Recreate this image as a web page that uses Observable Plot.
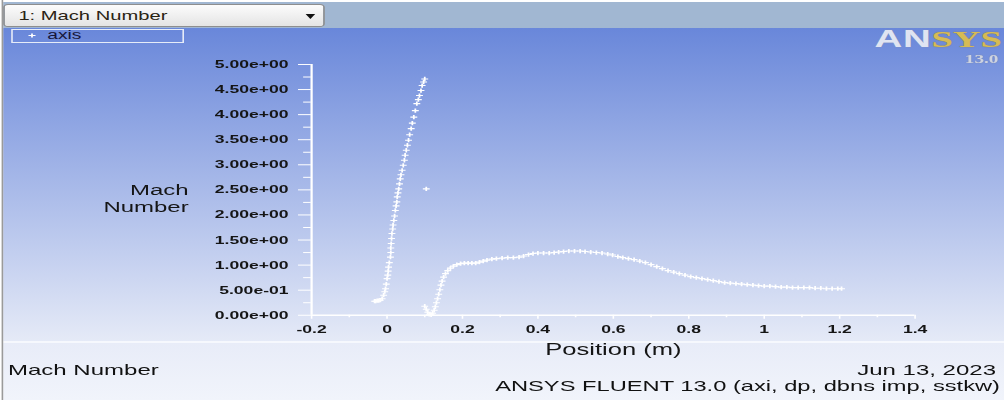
<!DOCTYPE html>
<html><head><meta charset="utf-8">
<script src="https://cdn.jsdelivr.net/npm/d3@7"></script>
<script src="https://cdn.jsdelivr.net/npm/@observablehq/plot@0.6"></script>
<style>
html,body{margin:0;padding:0;width:1004px;height:400px;overflow:hidden;background:#fff;}
#wrap{position:absolute;left:0;top:0;width:627.5px;height:400px;overflow:hidden;transform:scaleX(1.6);transform-origin:0 0;font-family:"Liberation Sans",Arial,sans-serif;color:#111;}
.abs{position:absolute;}
#edge{left:1.2px;top:0;width:0.8px;height:400px;background:#9a9a9a;}
#bar{left:2px;top:1.5px;right:0;height:26px;background:#a1b7d2;}
#drop{left:2px;top:4px;width:199px;height:21px;border:1px solid #8e8e8e;border-radius:3px;background:linear-gradient(#fcfcfc,#e4e4e4);}
#drop span{position:absolute;left:8.5px;top:0;line-height:22px;font-size:12.6px;color:#2a2313;}
#arrow{left:191px;top:14px;width:0;height:0;border-left:3.6px solid transparent;border-right:3.6px solid transparent;border-top:5px solid #111;}
#bg{left:2px;top:28px;right:0;height:313px;background:linear-gradient(#6987da,#e5eaf7);}
#sep{left:2px;top:341px;right:0;height:2px;background:#f6f8fd;}
#panel{left:2px;top:343px;right:0;height:57px;background:linear-gradient(#e8ecf8,#f1f4fb);}
#legend{left:6.5px;top:28.5px;width:106.5px;height:12px;border:1px solid #e6ecf8;}
#legend span{position:absolute;left:22px;top:-1px;font-size:12px;line-height:13px;color:#16163a;}
#logo{left:546.5px;top:27.4px;font-size:24px;font-weight:bold;white-space:nowrap;line-height:24px;height:24px;}
#logo .an{font-family:"Liberation Sans",Arial,sans-serif;color:#dfe4f2;text-shadow:0 0 1px #8a93b0;letter-spacing:0.5px;}
#logo .sys{font-family:"Liberation Serif",serif;color:#d6bb55;text-shadow:0 0 1px #8a7a40;}
#ver{left:603px;top:53px;font-family:"Liberation Serif",serif;font-weight:bold;font-size:12px;line-height:12px;height:12px;color:#cdd3e2;text-shadow:0 0 1px #7c86a2;}
.foot{font-size:15px;line-height:16px;white-space:nowrap;}
#chart{left:0;top:28px;}
</style></head>
<body>
<div id="wrap">
  <div class="abs" id="bar"></div>
  <div class="abs" id="drop"><span>1: Mach Number</span></div>
  <div class="abs" id="arrow"></div>
  <div class="abs" id="bg"></div>
  <div class="abs" id="sep"></div>
  <div class="abs" id="panel"></div>
  <div class="abs" id="edge"></div>
  <div class="abs" id="legend"><svg width="20" height="12" style="position:absolute;left:1px;top:0"><path d="M8.8,5.5H13.2M11,3.5V7.5" stroke="#fff" stroke-width="1.1"/></svg><span>axis</span></div>
  <div class="abs" id="logo"><span class="an">AN</span><span class="sys">SYS</span></div>
  <div class="abs" id="ver">13.0</div>
  <div class="abs" id="chart"></div>
  <div class="abs foot" style="left:5px;top:362px;">Mach Number</div>
  <div class="abs foot" style="right:5px;top:362px;">Jun 13, 2023</div>
  <div class="abs foot" style="right:2.5px;top:378px;font-size:14.8px;">ANSYS FLUENT 13.0 (axi, dp, dbns imp, sstkw)</div>
</div>
<script>
// Tick values and labels
const yTicks = [0, 0.5, 1, 1.5, 2, 2.5, 3, 3.5, 4, 4.5, 5];
const yTickLabels = ["0.00e+00","5.00e-01","1.00e+00","1.50e+00","2.00e+00","2.50e+00","3.00e+00","3.50e+00","4.00e+00","4.50e+00","5.00e+00"];
const yMinorTicks = [0.25, 0.75, 1.25, 1.75, 2.25, 2.75, 3.25, 3.75, 4.25, 4.75];
const xTicks = [-0.2, 0, 0.2, 0.4, 0.6, 0.8, 1, 1.2, 1.4];
const xTickLabels = ["-0.2","0","0.2","0.4","0.6","0.8","1","1.2","1.4"];
const xMinorTicks = [-0.1, 0.1, 0.3, 0.5, 0.7, 0.9, 1.1, 1.3];
const xLabel = "Position (m)";
const yLabel = "Mach\nNumber";

// Series: steep branch (position, mach)
const steepX = [-0.033,-0.030,-0.026,-0.022,-0.018,-0.013,-0.009,-0.006,-0.004,-0.002,0.000,0.002,0.003,0.004,0.006,0.009,0.010,0.010,0.011,0.012,0.013,0.015,0.016,0.018,0.020,0.022,0.024,0.026,0.027,0.029,0.031,0.033,0.035,0.037,0.040,0.043,0.046,0.048,0.051,0.054,0.057,0.060,0.064,0.067,0.071,0.075,0.079,0.083,0.086,0.090,0.093,0.097,0.100];
const steepM = [0.28,0.28,0.29,0.29,0.30,0.33,0.40,0.47,0.53,0.62,0.73,0.80,0.88,0.96,1.05,1.16,1.25,1.34,1.43,1.53,1.63,1.72,1.80,1.89,1.98,2.09,2.18,2.26,2.36,2.44,2.52,2.62,2.72,2.80,2.89,2.99,3.09,3.19,3.29,3.39,3.49,3.60,3.72,3.83,3.95,4.08,4.22,4.30,4.38,4.48,4.58,4.65,4.71];
// isolated point
const strayX = [0.104];
const strayM = [2.52];
// downstream branch
const downX = [0.100,0.104,0.108,0.112,0.117,0.121,0.125,0.128,0.131,0.134,0.137,0.140,0.143,0.146,0.150,0.155,0.161,0.168,0.176,0.185,0.195,0.205,0.215,0.225,0.235,0.245,0.255,0.265,0.278,0.290,0.305,0.320,0.335,0.350,0.362,0.375,0.387,0.400,0.415,0.430,0.443,0.455,0.468,0.482,0.497,0.512,0.525,0.540,0.555,0.570,0.585,0.598,0.612,0.625,0.640,0.655,0.670,0.685,0.700,0.715,0.730,0.745,0.760,0.775,0.790,0.805,0.820,0.835,0.850,0.865,0.880,0.895,0.910,0.925,0.940,0.955,0.970,0.985,1.000,1.015,1.030,1.045,1.060,1.075,1.090,1.105,1.120,1.135,1.150,1.165,1.180,1.195,1.205];
const downM = [0.18,0.12,0.06,0.02,0.01,0.04,0.10,0.17,0.25,0.33,0.42,0.51,0.60,0.68,0.76,0.83,0.89,0.94,0.98,1.01,1.03,1.04,1.04,1.04,1.04,1.06,1.08,1.10,1.12,1.13,1.14,1.15,1.15,1.16,1.18,1.21,1.23,1.24,1.24,1.24,1.25,1.26,1.27,1.28,1.28,1.28,1.27,1.26,1.25,1.24,1.22,1.20,1.17,1.15,1.13,1.11,1.08,1.05,1.01,0.97,0.93,0.89,0.86,0.83,0.80,0.77,0.75,0.73,0.71,0.69,0.67,0.65,0.64,0.63,0.62,0.61,0.60,0.59,0.58,0.58,0.57,0.56,0.56,0.55,0.55,0.55,0.55,0.54,0.54,0.53,0.53,0.53,0.53];

const pts = [];
steepX.forEach((x, i) => pts.push({x, m: steepM[i]}));
strayX.forEach((x, i) => pts.push({x, m: strayM[i]}));
downX.forEach((x, i) => pts.push({x, m: downM[i]}));

const yFmt = new Map(yTicks.map((t, i) => [t, yTickLabels[i]]));
const xFmt = new Map(xTicks.map((t, i) => [t, xTickLabels[i]]));
const ink = "#151515";

const chart = Plot.plot({
  width: 628,
  height: 337,
  marginLeft: 194.4,
  marginRight: 56.1,
  marginTop: 36,
  marginBottom: 50,
  style: {background: "transparent", overflow: "visible", fontFamily: "'Liberation Sans', Arial, sans-serif"},
  x: {domain: [-0.2, 1.4]},
  y: {domain: [0, 5]},
  marks: [
    Plot.axisY({ticks: yMinorTicks, tickSize: 4.8, tickFormat: () => "", stroke: "white", label: null}),
    Plot.axisY({ticks: yTicks, tickSize: 8, tickPadding: 6.4, tickFormat: d => yFmt.get(d), stroke: "white", color: ink, fontSize: 11, fontWeight: "bold", label: null}),
    Plot.axisX({ticks: xMinorTicks, tickSize: 2.5, tickFormat: () => "", stroke: "white", label: null}),
    Plot.axisX({ticks: xTicks, tickSize: 4, tickPadding: 6, tickFormat: d => xFmt.get(d), stroke: "white", color: ink, fontSize: 11, fontWeight: "bold", label: null}),
    Plot.ruleX([-0.2], {y1: 0, y2: 5, stroke: "white", strokeWidth: 1.4}),
    Plot.ruleY([0], {x1: -0.2, x2: 1.4, stroke: "white", strokeWidth: 1.4}),
    Plot.dot(pts, {x: "x", y: "m", symbol: "plus", r: 1.5, stroke: "white", strokeWidth: 1.1}),
    Plot.text([yLabel], {text: d => d, frameAnchor: "left", dx: -76.9, dy: 8.5, textAnchor: "end", lineHeight: 1.07, fontSize: 15, fill: ink}),
    Plot.text([xLabel], {text: d => d, frameAnchor: "bottom", dy: 40, fontSize: 16, fill: ink})
  ]
});
document.getElementById("chart").appendChild(chart);
</script>
</body></html>
